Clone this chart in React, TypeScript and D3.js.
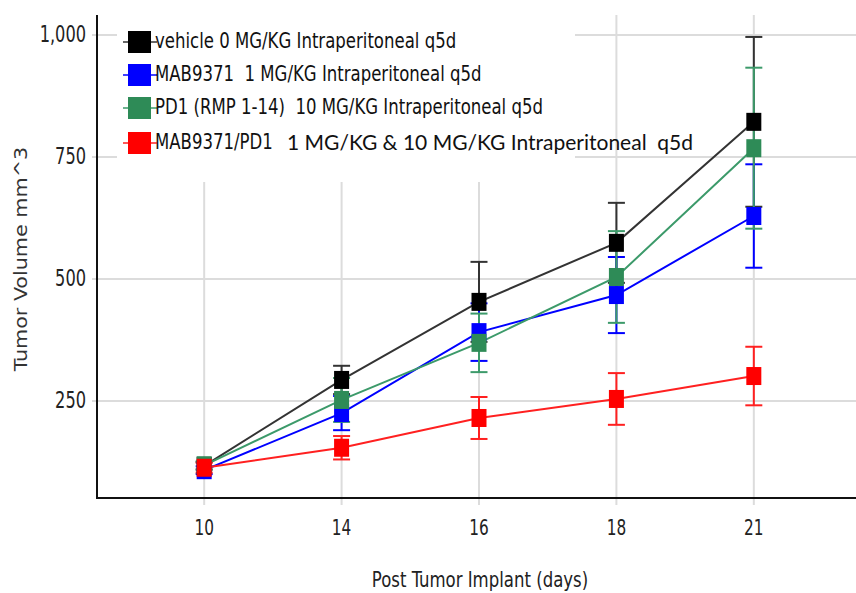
import React from "react";
import * as d3 from "d3";

const days = ["10", "14", "16", "18", "21"];
const yTicks = [250, 500, 750, 1000];

const seriesNames = [
  "vehicle 0 MG/KG Intraperitoneal q5d",
  "MAB9371  1 MG/KG Intraperitoneal q5d",
  "PD1 (RMP 1-14)  10 MG/KG Intraperitoneal q5d",
  "MAB9371/PD1",
];
const comboDose = "1 MG/KG & 10 MG/KG Intraperitoneal  q5d";

const vehicleMean = [117, 293, 453, 574, 822];
const vehicleErr = [8, 29, 82, 82, 174];
const mabMean = [108, 225, 391, 467, 629];
const mabErr = [8, 35, 59, 78, 106];
const pd1Mean = [118, 252, 369, 504, 768];
const pd1Err = [8, 45, 60, 94, 165];
const comboMean = [113, 154, 215, 254, 301];
const comboErr = [10, 24, 43, 53, 60];

const colors = ["#000000", "#0000ff", "#2e8b57", "#ff0000"];
const lineColors = ["#333333", "#0000ff", "#3c9a6a", "#ff2020"];

const W = 856;
const H = 593;
const left = 97;
const right = 861;
const top = 15;
const bottom = 498;

const condensed = "'DejaVu Sans Condensed', 'DejaVu Sans', sans-serif";
const SY = 1.28; // picture is stretched vertically
const SX = 1.15;

export default function App() {
  const x = d3.scalePoint<string>().domain(days).range([left, right]).padding(0.78);
  const y = d3.scaleLinear().domain([51, 1041]).range([bottom, top]);

  const series = [
    { mean: vehicleMean, err: vehicleErr },
    { mean: mabMean, err: mabErr },
    { mean: pd1Mean, err: pd1Err },
    { mean: comboMean, err: comboErr },
  ];

  const line = d3
    .line<number>()
    .x((_, i) => x(days[i]) as number)
    .y((d) => y(d));

  const legendBox = { x0: 117, x1: 575, y1: 182 };
  const legendRows = [42, 75, 108, 143];

  return (
    <div style={{ position: "absolute", left: 0, top: 0 }}>
      <svg width={W} height={H} style={{ display: "block", background: "#fff" }}>
        {/* grid */}
        {days.map((d) => {
          const px = x(d) as number;
          const y0 = px > legendBox.x0 && px < legendBox.x1 ? legendBox.y1 : top;
          return <line key={"gx" + d} x1={px} x2={px} y1={y0} y2={bottom + 7} stroke="#dcdcdc" strokeWidth={2} />;
        })}
        {yTicks.map((t) => {
          const py = y(t);
          return (
            <g key={"gy" + t}>
              <line x1={left - 5} x2={legendBox.x0} y1={py} y2={py} stroke="#dcdcdc" strokeWidth={2}
                style={{ display: py < legendBox.y1 ? "inline" : "none" }} />
              <line x1={py < legendBox.y1 ? legendBox.x1 : left - 5} x2={W} y1={py} y2={py} stroke="#dcdcdc" strokeWidth={2} />
            </g>
          );
        })}

        {/* axes */}
        <line x1={left} x2={left} y1={top} y2={bottom + 1} stroke="#111" strokeWidth={2} />
        <line x1={left - 1} x2={W} y1={bottom} y2={bottom} stroke="#111" strokeWidth={2} />

        {yTicks.map((t) => (
          <text key={"ty" + t} transform={`translate(86,${y(t) + 7}) scale(1,${SY})`} textAnchor="end"
            fontFamily={condensed} fontSize={18} fill="#222">
            {d3.format(",")(t)}
          </text>
        ))}
        {days.map((d) => (
          <text key={"tx" + d} transform={`translate(${x(d)},${535}) scale(1,${SY})`} textAnchor="middle"
            fontFamily={condensed} fontSize={17} fill="#222">
            {d}
          </text>
        ))}

        <text transform={`translate(480,587) scale(${SX},${SY})`} textAnchor="middle" fontFamily={condensed}
          fontSize={16} fill="#222">
          Post Tumor Implant (days)
        </text>
        <text transform={`translate(27,259) rotate(-90) scale(${SY},1)`} textAnchor="middle" fontFamily={condensed}
          fontSize={18} fill="#333">
          Tumor Volume mm^3
        </text>

        {/* lines and error bars */}
        {series.map((s, k) => (
          <g key={"s" + k}>
            <path d={line(s.mean) || ""} fill="none" stroke={lineColors[k]} strokeWidth={2} />
            {s.mean.map((m, i) => {
              const px = x(days[i]) as number;
              const yt = y(m + s.err[i]);
              const yb = y(m - s.err[i]);
              return (
                <g key={i} stroke={lineColors[k]} strokeWidth={2}>
                  <line x1={px} x2={px} y1={yt} y2={yb} />
                  <line x1={px - 8.5} x2={px + 8.5} y1={yt} y2={yt} />
                  <line x1={px - 8.5} x2={px + 8.5} y1={yb} y2={yb} />
                </g>
              );
            })}
          </g>
        ))}
        {series.map((s, k) => (
          <g key={"m" + k}>
            {s.mean.map((m, i) => (
              <rect key={i} x={(x(days[i]) as number) - 7.5} y={y(m) - 9} width={15} height={18} fill={colors[k]} />
            ))}
          </g>
        ))}

        {/* legend */}
        {seriesNames.map((n, k) => (
          <g key={"l" + k}>
            <line x1={123} x2={157} y1={legendRows[k]} y2={legendRows[k]} stroke={lineColors[k]} strokeWidth={1.5} />
            <rect x={128} y={legendRows[k] - 11} width={23} height={22} fill={colors[k]} />
            <text transform={`translate(155,${legendRows[k] + 6}) scale(${SX},${SY})`} fontFamily={condensed}
              fontSize={16} fill="#111" style={{ whiteSpace: "pre" }}>
              {n}
            </text>
          </g>
        ))}
        <text x={287} y={legendRows[3] + 7} fontFamily="Lato, 'Open Sans', sans-serif" fontSize={21} fill="#111"
          style={{ whiteSpace: "pre" }}>
          {comboDose}
        </text>
      </svg>
    </div>
  );
}
